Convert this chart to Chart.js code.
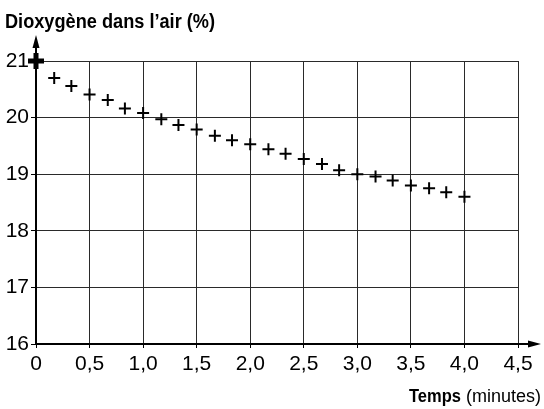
<!DOCTYPE html>
<html>
<head>
<meta charset="utf-8">
<script src="https://cdn.jsdelivr.net/npm/chart.js@4.4.0/dist/chart.umd.min.js"></script>
<style>
  html, body { margin: 0; padding: 0; background: #fff; }
  #wrap { width: 544px; height: 409px; }
</style>
</head>
<body>
<div id="wrap"><canvas id="chartO2"></canvas></div>
<script>
// temps en minutes (un point toutes les 10 s)
const temps = [0, 0.17, 0.33, 0.5, 0.67, 0.83, 1.0, 1.17, 1.33, 1.5, 1.67, 1.83, 2.0,
    2.17, 2.33, 2.5, 2.67, 2.83, 3.0, 3.17, 3.33, 3.5, 3.67, 3.83, 4.0];
// dioxygène dans l'air (%)
const dioxygene = [21.0, 20.7, 20.56, 20.41, 20.31, 20.16, 20.08, 19.97, 19.87, 19.79, 19.68, 19.6, 19.53,
    19.44, 19.36, 19.27, 19.18, 19.07, 19.0, 18.96, 18.89, 18.8, 18.75, 18.68, 18.6];

const xTicks = [0, 0.5, 1.0, 1.5, 2.0, 2.5, 3.0, 3.5, 4.0, 4.5];
const yTicks = [16, 17, 18, 19, 20, 21];

const FONT = "'Liberation Sans', Arial, sans-serif";
Chart.defaults.font.family = FONT;
Chart.defaults.color = '#000';

const points = temps.map((t, i) => ({x: t, y: dioxygene[i]}));

// texte resserré horizontalement pour imiter une police condensée
function narrowText(ctx, text, x, y, width, align) {
    const w = ctx.measureText(text).width;
    const k = Math.min(1, width / w);
    ctx.save();
    ctx.translate(x, y);
    ctx.scale(k, 1);
    ctx.textAlign = align;
    ctx.fillText(text, 0, 0);
    ctx.restore();
    return w * k;
}

// flèches des axes + titres
const axesPlugin = {
    id: 'axes',
    afterDraw(chart) {
        const ctx = chart.ctx;
        const {left, top, right, bottom} = chart.chartArea;
        ctx.save();
        ctx.strokeStyle = '#000';
        ctx.fillStyle = '#000';
        ctx.lineWidth = 2;
        // axe y prolongé
        ctx.beginPath();
        ctx.moveTo(left, top);
        ctx.lineTo(left, top - 18);
        ctx.stroke();
        ctx.beginPath();
        ctx.moveTo(left, top - 26);
        ctx.lineTo(left - 3.5, top - 13);
        ctx.lineTo(left + 3.5, top - 13);
        ctx.closePath();
        ctx.fill();
        // axe x prolongé
        ctx.beginPath();
        ctx.moveTo(right, bottom);
        ctx.lineTo(right + 14, bottom);
        ctx.stroke();
        ctx.beginPath();
        ctx.moveTo(right + 23, bottom);
        ctx.lineTo(right + 10, bottom - 3.5);
        ctx.lineTo(right + 10, bottom + 3.5);
        ctx.closePath();
        ctx.fill();

        // titre axe y
        ctx.textBaseline = 'alphabetic';
        ctx.font = 'bold 20px ' + FONT;
        narrowText(ctx, "Dioxygène dans l\u2019air (%)", 5, 28, 210, 'left');

        // titre axe x : "Temps" gras, "(minutes)" normal
        ctx.font = '18px ' + FONT;
        const w2 = narrowText(ctx, ' (minutes)', 541, 402, 84, 'right');
        ctx.font = 'bold 18px ' + FONT;
        narrowText(ctx, 'Temps', 541 - w2, 402, 52, 'right');
        ctx.restore();
    }
};

new Chart(document.querySelector('#chartO2').getContext('2d'), {
    type: 'scatter',
    data: {
        datasets: [
            {
                label: 'Dioxygène',
                data: points,
                pointStyle: 'cross',
                // le premier point, sur l'axe, est marqué plus épais
                pointRadius: c => c.dataIndex === 0 ? 8 : 6,
                pointBorderWidth: c => c.dataIndex === 0 ? 5 : 2,
                borderColor: '#000',
                backgroundColor: '#000',
                clip: false
            }
        ]
    },
    options: {
        responsive: true,
        maintainAspectRatio: false,
        animation: false,
        layout: {
            padding: {top: 61, right: 26, left: 0, bottom: 0}
        },
        plugins: {
            legend: {display: false},
            tooltip: {enabled: false}
        },
        scales: {
            x: {
                type: 'linear',
                min: 0,
                max: 4.5,
                afterFit(scale) { scale.height = 65; },
                afterBuildTicks(scale) { scale.ticks = xTicks.map(v => ({value: v})); },
                ticks: {
                    padding: 4,
                    maxRotation: 0,
                    font: {size: 21},
                    callback: v => v === 0 ? '0' : v.toFixed(1).replace('.', ',')
                },
                grid: {
                    color: '#2a2a2a',
                    lineWidth: 1,
                    borderDash: [3, 1],
                    tickLength: 4,
                    tickColor: '#000',
                    tickBorderDash: []
                },
                border: {display: true, color: '#000', width: 2}
            },
            y: {
                type: 'linear',
                min: 16,
                max: 21,
                afterFit(scale) { scale.width = 36; },
                afterBuildTicks(scale) { scale.ticks = yTicks.map(v => ({value: v})); },
                ticks: {
                    padding: 2,
                    font: {size: 21}
                },
                grid: {
                    color: '#2a2a2a',
                    lineWidth: 1,
                    borderDash: [3, 1],
                    tickLength: 5,
                    tickColor: '#000',
                    tickBorderDash: []
                },
                border: {display: true, color: '#000', width: 2}
            }
        }
    },
    plugins: [axesPlugin]
});
</script>
</body>
</html>
